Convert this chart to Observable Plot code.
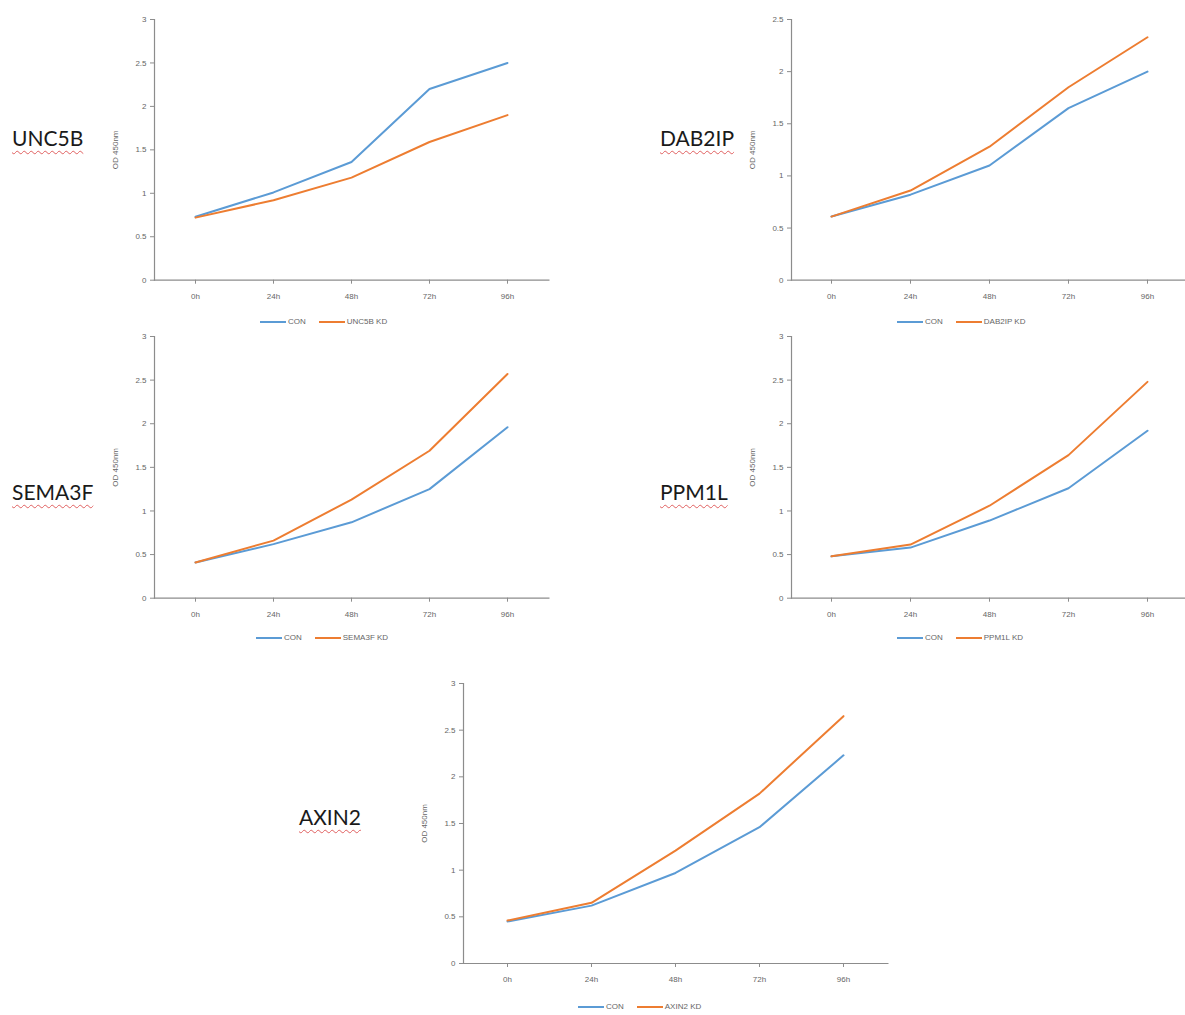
<!DOCTYPE html>
<html><head><meta charset="utf-8">
<script src="https://cdn.jsdelivr.net/npm/d3@7"></script>
<script src="https://cdn.jsdelivr.net/npm/@observablehq/plot@0.6"></script>
<style>
body{margin:0;background:#fff;}
#root{position:relative;width:1185px;height:1015px;overflow:hidden;font-family:"Liberation Sans",Arial,sans-serif;}
.title{position:absolute;font-family:Lato,"Open Sans",sans-serif;font-size:21px;line-height:24px;color:#1a1a1a;text-decoration:underline wavy #e06060;text-decoration-thickness:1px;text-underline-offset:4px;white-space:nowrap;}
.legend{position:absolute;display:flex;align-items:center;font-size:8px;line-height:10px;color:#666;white-space:nowrap;}
.sw{display:inline-block;width:26px;height:2px;margin-right:2px;}
.gap{display:inline-block;width:13px;}
.panel{position:absolute;}
.panel svg{max-width:none !important;}
</style></head><body><div id="root"></div>
<script>
// ---- data ----
const times = ["0h", "24h", "48h", "72h", "96h"];
const genes = ["UNC5B", "DAB2IP", "SEMA3F", "PPM1L", "AXIN2"];
const seriesNames = ["CON", "KD"];
const unc5bCon  = [0.73, 1.01, 1.36, 2.20, 2.50];
const unc5bKd   = [0.72, 0.92, 1.18, 1.59, 1.90];
const dab2ipCon = [0.61, 0.82, 1.10, 1.65, 2.00];
const dab2ipKd  = [0.61, 0.86, 1.28, 1.85, 2.33];
const sema3fCon = [0.41, 0.62, 0.87, 1.25, 1.96];
const sema3fKd  = [0.41, 0.66, 1.13, 1.69, 2.57];
const ppm1lCon  = [0.48, 0.58, 0.89, 1.26, 1.92];
const ppm1lKd   = [0.48, 0.615, 1.06, 1.64, 2.48];
const axin2Con  = [0.45, 0.62, 0.97, 1.46, 2.23];
const axin2Kd   = [0.46, 0.65, 1.21, 1.82, 2.65];
const yMaxes = [3, 2.5, 3, 3, 3];
const yLabel = "OD 450nm";
const colors = ["#5b9bd5", "#ed7d31"];

const series = [
  [unc5bCon, unc5bKd],
  [dab2ipCon, dab2ipKd],
  [sema3fCon, sema3fKd],
  [ppm1lCon, ppm1lKd],
  [axin2Con, axin2Kd]
];

// ---- layout (pixel positions of each panel) ----
const layout = [
  {axL: 153.6, axR: 548,  yT: 19.3,  yB: 280,   titleX: 12,  titleY: 138,   legX: 260, legY: 322},
  {axL: 791,   axR: 1186, yT: 19.3,  yB: 280,   titleX: 660, titleY: 138,   legX: 897, legY: 322},
  {axL: 153.6, axR: 548,  yT: 336,   yB: 597.7, titleX: 12,  titleY: 492,   legX: 256, legY: 638},
  {axL: 791,   axR: 1186, yT: 336,   yB: 597.7, titleX: 660, titleY: 492,   legX: 897, legY: 638},
  {axL: 462.6, axR: 887,  yT: 683.3, yB: 963.3, titleX: 299, titleY: 817,   legX: 578, legY: 1007}
];

const root = document.getElementById("root");
const axisColor = "#8c8c8c";

genes.forEach((gene, i) => {
  const L = layout[i];
  const mL = 50, mT = 10, mR = 6, mB = 26;
  const width = (L.axR - L.axL) + mL + mR;
  const height = (L.yB - L.yT) + mT + mB;
  const data = [];
  seriesNames.forEach((s, k) => times.forEach((t, j) => data.push({t, v: series[i][k][j], s})));
  const ticks = d3.range(0, yMaxes[i] + 1e-9, 0.5);
  const svg = Plot.plot({
    width, height,
    marginLeft: mL, marginTop: mT, marginRight: mR, marginBottom: mB,
    style: {fontFamily: "'Liberation Sans', Arial, sans-serif", fontSize: "8px", color: "#666", background: "transparent", overflow: "visible", maxWidth: "none"},
    x: {type: "point", domain: times, padding: 0.5},
    y: {domain: [0, yMaxes[i]]},
    color: {domain: seriesNames, range: colors},
    marks: [
      Plot.axisY({ticks, tickFormat: d => String(d), tickSize: 4, tickPadding: 4, stroke: axisColor,
                  label: yLabel, labelAnchor: "center", labelArrow: "none", labelOffset: 42}),
      Plot.axisX({tickSize: 4, tickPadding: 9, stroke: axisColor, label: null}),
      Plot.frame({anchor: "left", stroke: axisColor, strokeWidth: 1.2}),
      Plot.frame({anchor: "bottom", stroke: axisColor, strokeWidth: 1.2}),
      Plot.line(data, {x: "t", y: "v", stroke: "s", z: "s", strokeWidth: 2})
    ]
  });
  svg.style.maxWidth = "none";
  const wrap = document.createElement("div");
  wrap.className = "panel";
  wrap.style.left = (L.axL - mL) + "px";
  wrap.style.top = (L.yT - mT) + "px";
  wrap.style.width = width + "px";
  wrap.style.height = height + "px";
  wrap.appendChild(svg);
  root.appendChild(wrap);

  const title = document.createElement("div");
  title.className = "title";
  title.textContent = gene;
  title.style.left = L.titleX + "px";
  title.style.top = (L.titleY - 12) + "px";
  root.appendChild(title);

  const leg = document.createElement("div");
  leg.className = "legend";
  leg.style.left = L.legX + "px";
  leg.style.top = (L.legY - 5) + "px";
  const labels = [seriesNames[0], gene + " " + seriesNames[1]];
  labels.forEach((lab, k) => {
    if (k > 0) { const g = document.createElement("span"); g.className = "gap"; leg.appendChild(g); }
    const sw = document.createElement("span");
    sw.className = "sw";
    sw.style.background = colors[k];
    leg.appendChild(sw);
    const tx = document.createElement("span");
    tx.textContent = lab;
    leg.appendChild(tx);
  });
  root.appendChild(leg);
});
</script>
</body></html>
